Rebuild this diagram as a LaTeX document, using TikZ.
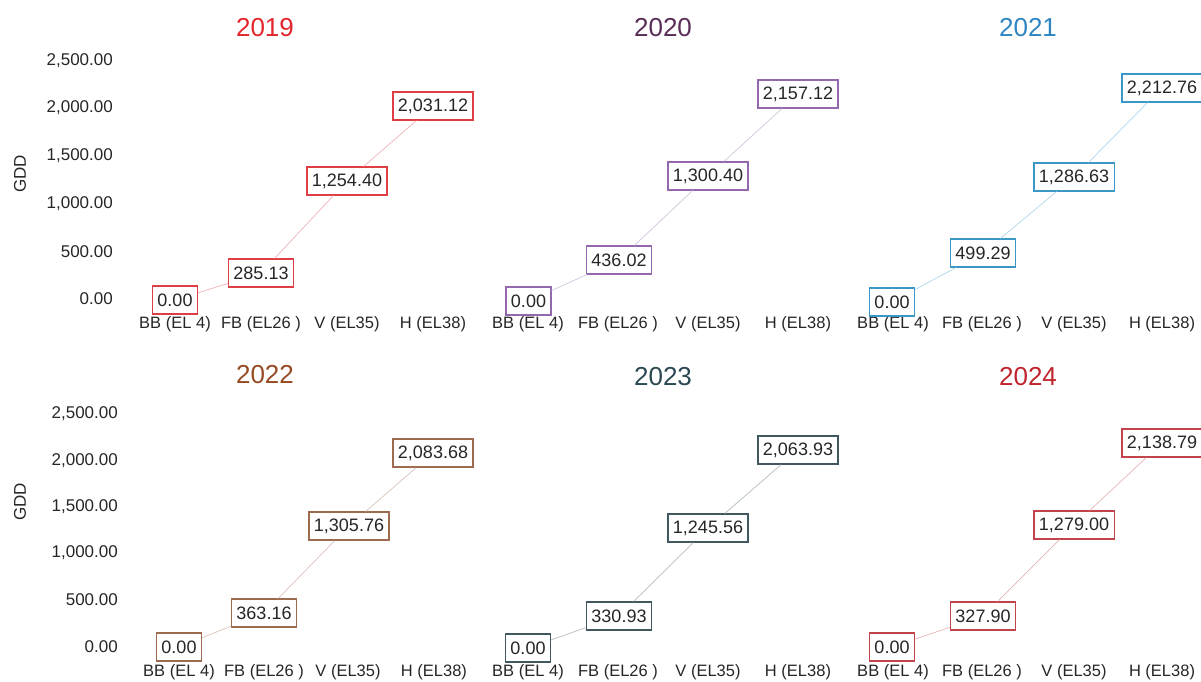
\documentclass[tikz,border=0pt]{standalone}
\usepackage{fontspec}
\setmainfont{Liberation Sans}
\usepackage{xcolor}
\usetikzlibrary{positioning}

\definecolor{c19}{HTML}{E3262B}
\definecolor{c20}{HTML}{5A2D57}
\definecolor{c21}{HTML}{2E85C0}
\definecolor{c22}{HTML}{964A22}
\definecolor{c23}{HTML}{2B4853}
\definecolor{c24}{HTML}{C0242C}
\definecolor{b19}{HTML}{DD3F45}
\definecolor{b20}{HTML}{9468AE}
\definecolor{b21}{HTML}{3B98C6}
\definecolor{b22}{HTML}{9E6A50}
\definecolor{b23}{HTML}{415860}
\definecolor{b24}{HTML}{C2434A}

\begin{document}
\begin{tikzpicture}[
  x=1pt, y=-1pt,
  valbox/.style={draw, line width=1.1pt, fill=white, inner xsep=5pt,
    minimum height=28pt, font=\fontsize{18}{20}\selectfont, text=black!85},
  yeartitle/.style={font=\fontsize{26}{28}\selectfont},
  xlab/.style={font=\fontsize{16.5}{18}\selectfont, text=black!85},
  ytick/.style={anchor=east, inner xsep=0pt, font=\fontsize{17}{19}\selectfont, text=black!85},
  ylab/.style={rotate=90, font=\fontsize{17}{19}\selectfont, text=black!85},
  link/.style={line width=0.7pt}
]
\useasboundingbox (0,0) rectangle (1201,682);

% titles
\node[yeartitle, text=c19] (t19) at (265,28) {2019};
\node[yeartitle, text=c20] (t20) at (663,28) {2020};
\node[yeartitle, text=c21] (t21) at (1028,28) {2021};
\node[yeartitle, text=c22] (t22) at (265,375) {2022};
\node[yeartitle, text=c23] (t23) at (663,377) {2023};
\node[yeartitle, text=c24] (t24) at (1028,377) {2024};

% y axes
\node[ylab] (gdd1) at (20,174) {GDD};
\node[ytick] (ya5) at (113,61) {2,500.00};
\node[ytick] (ya4) at (113,108) {2,000.00};
\node[ytick] (ya3) at (113,156) {1,500.00};
\node[ytick] (ya2) at (113,204) {1,000.00};
\node[ytick] (ya1) at (113,252) {500.00};
\node[ytick] (ya0) at (113,299) {0.00};
\node[ylab] (gdd2) at (20,502) {GDD};
\node[ytick] (yb5) at (118,414) {2,500.00};
\node[ytick] (yb4) at (118,461) {2,000.00};
\node[ytick] (yb3) at (118,507) {1,500.00};
\node[ytick] (yb2) at (118,553) {1,000.00};
\node[ytick] (yb1) at (118,600) {500.00};
\node[ytick] (yb0) at (118,647) {0.00};

% stage labels
\node[xlab] (x19a) at (175,324) {BB (EL 4)};
\node[xlab] (x19b) at (261,324) {FB (EL26 )};
\node[xlab] (x19c) at (347,324) {V (EL35)};
\node[xlab] (x19d) at (433,324) {H (EL38)};
\node[xlab] (x20a) at (528,324) {BB (EL 4)};
\node[xlab] (x20b) at (618,324) {FB (EL26 )};
\node[xlab] (x20c) at (708,324) {V (EL35)};
\node[xlab] (x20d) at (798,324) {H (EL38)};
\node[xlab] (x21a) at (893,324) {BB (EL 4)};
\node[xlab] (x21b) at (982,324) {FB (EL26 )};
\node[xlab] (x21c) at (1074,324) {V (EL35)};
\node[xlab] (x21d) at (1162,324) {H (EL38)};
\node[xlab] (x22a) at (179,672) {BB (EL 4)};
\node[xlab] (x22b) at (264,672) {FB (EL26 )};
\node[xlab] (x22c) at (348,672) {V (EL35)};
\node[xlab] (x22d) at (434,672) {H (EL38)};
\node[xlab] (x23a) at (528,672) {BB (EL 4)};
\node[xlab] (x23b) at (618,672) {FB (EL26 )};
\node[xlab] (x23c) at (708,672) {V (EL35)};
\node[xlab] (x23d) at (798,672) {H (EL38)};
\node[xlab] (x24a) at (893,672) {BB (EL 4)};
\node[xlab] (x24b) at (982,672) {FB (EL26 )};
\node[xlab] (x24c) at (1074,672) {V (EL35)};
\node[xlab] (x24d) at (1162,672) {H (EL38)};

% 2019
\node[valbox, draw=b19] (v19a) at (175,300) {0.00};
\node[valbox, draw=b19] (v19b) at (261,273) {285.13};
\node[valbox, draw=b19] (v19c) at (347,181) {1,254.40};
\node[valbox, draw=b19] (v19d) at (433,106) {2,031.12};
\draw[link, b19!40] (v19a) -- (v19b) -- (v19c) -- (v19d);

% 2020
\node[valbox, draw=b20] (v20a) at (528.5,301) {0.00};
\node[valbox, draw=b20] (v20b) at (619,260) {436.02};
\node[valbox, draw=b20] (v20c) at (708,176) {1,300.40};
\node[valbox, draw=b20] (v20d) at (798,94) {2,157.12};
\draw[link, b20!40] (v20a) -- (v20b) -- (v20c) -- (v20d);

% 2021
\node[valbox, draw=b21] (v21a) at (892,302) {0.00};
\node[valbox, draw=b21] (v21b) at (983,253) {499.29};
\node[valbox, draw=b21] (v21c) at (1074,177) {1,286.63};
\node[valbox, draw=b21] (v21d) at (1162,88) {2,212.76};
\draw[link, b21!40] (v21a) -- (v21b) -- (v21c) -- (v21d);

% 2022
\node[valbox, draw=b22] (v22a) at (179,647) {0.00};
\node[valbox, draw=b22] (v22b) at (264,613) {363.16};
\node[valbox, draw=b22] (v22c) at (349,526) {1,305.76};
\node[valbox, draw=b22] (v22d) at (433,453) {2,083.68};
\draw[link, b22!40] (v22a) -- (v22b) -- (v22c) -- (v22d);

% 2023
\node[valbox, draw=b23] (v23a) at (528,648) {0.00};
\node[valbox, draw=b23] (v23b) at (619,616) {330.93};
\node[valbox, draw=b23] (v23c) at (708,528) {1,245.56};
\node[valbox, draw=b23] (v23d) at (798,450) {2,063.93};
\draw[link, b23!40] (v23a) -- (v23b) -- (v23c) -- (v23d);

% 2024
\node[valbox, draw=b24] (v24a) at (892,647) {0.00};
\node[valbox, draw=b24] (v24b) at (983,616) {327.90};
\node[valbox, draw=b24] (v24c) at (1074,525) {1,279.00};
\node[valbox, draw=b24] (v24d) at (1162,443) {2,138.79};
\draw[link, b24!40] (v24a) -- (v24b) -- (v24c) -- (v24d);
\end{tikzpicture}
\end{document}
